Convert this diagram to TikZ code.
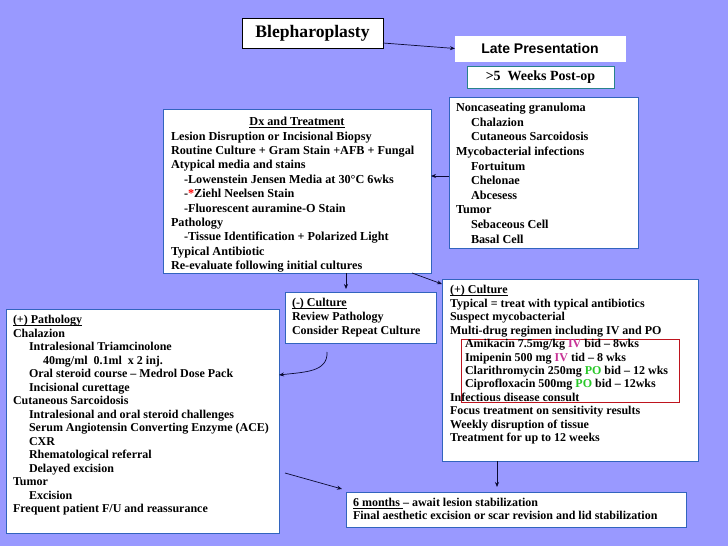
\documentclass[tikz,border=0pt]{standalone}
\usepackage{fontspec}
\setmainfont{Liberation Serif}
\newfontfamily\arialfont{Liberation Sans}
\usetikzlibrary{arrows.meta}
\definecolor{bg}{RGB}{153,153,255}
\definecolor{boxblue}{RGB}{50,100,190}
\definecolor{teal2}{RGB}{40,130,140}
\definecolor{redbox}{RGB}{190,20,30}
\definecolor{ivcol}{RGB}{200,50,150}
\definecolor{pocol}{RGB}{40,200,40}
\definecolor{arrcol}{RGB}{10,10,50}
\newsavebox{\myulbox}
\newcommand{\ul}[1]{\sbox{\myulbox}{#1}\rlap{\rule[-1.8pt]{\wd\myulbox}{0.6pt}}\usebox{\myulbox}}
\begin{document}
\begin{tikzpicture}[x=1pt,y=-1pt,
  box/.style={draw=boxblue, fill=white, line width=0.8pt, anchor=north west, inner sep=0pt, outer sep=0pt},
  txt/.style={anchor=north west, inner sep=0pt, outer sep=0pt, align=left},
  arr/.style={draw=arrcol, line width=0.7pt, -{Stealth[length=5pt,width=4pt]}}
]
\fill[bg] (0,0) rectangle (728,546);
\useasboundingbox (0,0) rectangle (728,546);

% top boxes
\node[box, draw=black, minimum width=141, minimum height=30] (bleph) at (242,18) {};
\node[inner sep=0pt, font=\bfseries\fontsize{17.6}{19}\selectfont] (blepht) at (bleph.center) {Blepharoplasty};

\node[box, draw=white, minimum width=170, minimum height=25] (late) at (455,36) {};
\node[inner sep=0pt, font=\arialfont\bfseries\fontsize{14}{16}\selectfont] (latet) at (late.center) {Late Presentation};

\node[box, draw=teal2, minimum width=147, minimum height=22] (weeks) at (467,66) {};
\node[inner sep=0pt, font=\bfseries\fontsize{14}{15}\selectfont] (weekst) at (weeks.center) {>5\ \ Weeks Post-op};

% noncaseating
\node[box, minimum width=189, minimum height=151] (nc) at (449,97) {};
\node[txt, font=\bfseries\fontsize{12.2}{14.6}\selectfont] (nct) at (456,101.5) {\strut Noncaseating granuloma\\
\hspace*{15pt}Chalazion\\
\hspace*{15pt}Cutaneous Sarcoidosis\\
Mycobacterial infections\\
\hspace*{15pt}Fortuitum\\
\hspace*{15pt}Chelonae\\
\hspace*{15pt}Abcesess\\
Tumor\\
\hspace*{15pt}Sebaceous Cell\\
\hspace*{15pt}Basal Cell};

% Dx
\node[box, minimum width=268, minimum height=164] (dx) at (163,109) {};
\node[txt, font=\bfseries\fontsize{12.2}{14.4}\selectfont] (dxt) at (171,115.6) {\strut\makebox[252pt][c]{\ul{Dx and Treatment}}\\
Lesion Disruption or Incisional Biopsy\\
Routine Culture + Gram Stain +AFB + Fungal\\
Atypical media and stains\\
\hspace*{13pt}-Lowenstein Jensen Media at 30°C 6wks\\
\hspace*{13pt}-{\color{red}*}Ziehl Neelsen Stain\\
\hspace*{13pt}-Fluorescent auramine-O Stain\\
Pathology\\
\hspace*{13pt}-Tissue Identification + Polarized Light\\
Typical Antibiotic\\
Re-evaluate following initial cultures};

% (-) culture
\node[box, minimum width=151, minimum height=51] (neg) at (285,292) {};
\node[txt, font=\bfseries\fontsize{12}{14}\selectfont] (negt) at (292,297) {\strut\ul{(-) Culture}\mbox{}\\
Review Pathology\\
Consider Repeat Culture};

% (+) culture
\node[box, minimum width=256, minimum height=182] (pos) at (442,279) {};
\node[box, draw=redbox, fill=none, minimum width=218, minimum height=63] (rb) at (461,339) {};
\node[txt, font=\bfseries\fontsize{12}{13.45}\selectfont] (post) at (450,284.4) {\strut\ul{(+) Culture}\mbox{}\\
Typical = treat with typical antibiotics\\
Suspect mycobacterial\\
Multi-drug regimen including IV and PO\\
\hspace*{15pt}Amikacin 7.5mg/kg {\color{ivcol}IV} bid -- 8wks\\
\hspace*{15pt}Imipenin 500 mg {\color{ivcol}IV} tid -- 8 wks\\
\hspace*{15pt}Clarithromycin 250mg {\color{pocol}PO} bid -- 12 wks\\
\hspace*{15pt}Ciprofloxacin 500mg {\color{pocol}PO} bid -- 12wks\\
Infectious disease consult\\
Focus treatment on sensitivity results\\
Weekly disruption of tissue\\
Treatment for up to 12 weeks};

% (+) pathology
\node[box, minimum width=273, minimum height=224] (path) at (6,309) {};
\node[txt, font=\bfseries\fontsize{12}{13.5}\selectfont] (patht) at (13,314.3) {\strut\ul{(+) Pathology}\mbox{}\\
Chalazion\\
\hspace*{16pt}Intralesional Triamcinolone\\
\hspace*{30pt}40mg/ml\ \ 0.1ml\ \ x 2 inj.\\
\hspace*{16pt}Oral steroid course -- Medrol Dose Pack\\
\hspace*{16pt}Incisional curettage\\
Cutaneous Sarcoidosis\\
\hspace*{16pt}Intralesional and oral steroid challenges\\
\hspace*{16pt}Serum Angiotensin Converting Enzyme (ACE)\\
\hspace*{16pt}CXR\\
\hspace*{16pt}Rhematological referral\\
\hspace*{16pt}Delayed excision\\
Tumor\\
\hspace*{16pt}Excision\\
Frequent patient F/U and reassurance};

% 6 months
\node[box, minimum width=340, minimum height=35] (six) at (346,492) {};
\node[txt, font=\bfseries\fontsize{12}{13}\selectfont] (sixt) at (353,497.7) {\strut\ul{6 months\ }-- await lesion stabilization\\
Final aesthetic excision or scar revision and lid stabilization};

% connectors
\coordinate (c1) at (327,352);
\coordinate (c2) at (285,473);
\draw[arr] (bleph.east |- 0,43) -- (late.west);
\draw[arr] (nc.west |- 0,176) -- (dx.east |- 0,176);
\draw[arr, shorten >=3pt] (dx.south -| 346,0) -- (neg.north -| 346,0);
\draw[arr] (dx.south -| 412,0) -- (pos.north west |- 0,284);
\draw[arr] (c1) .. controls (328,372) and (305,372) .. (path.east |- 0,375);
\draw[arr] (c2) -- (342,489);
\draw[arr, shorten >=5pt] (pos.south -| 497,0) -- (six.north -| 497,0);
\end{tikzpicture}
\end{document}
